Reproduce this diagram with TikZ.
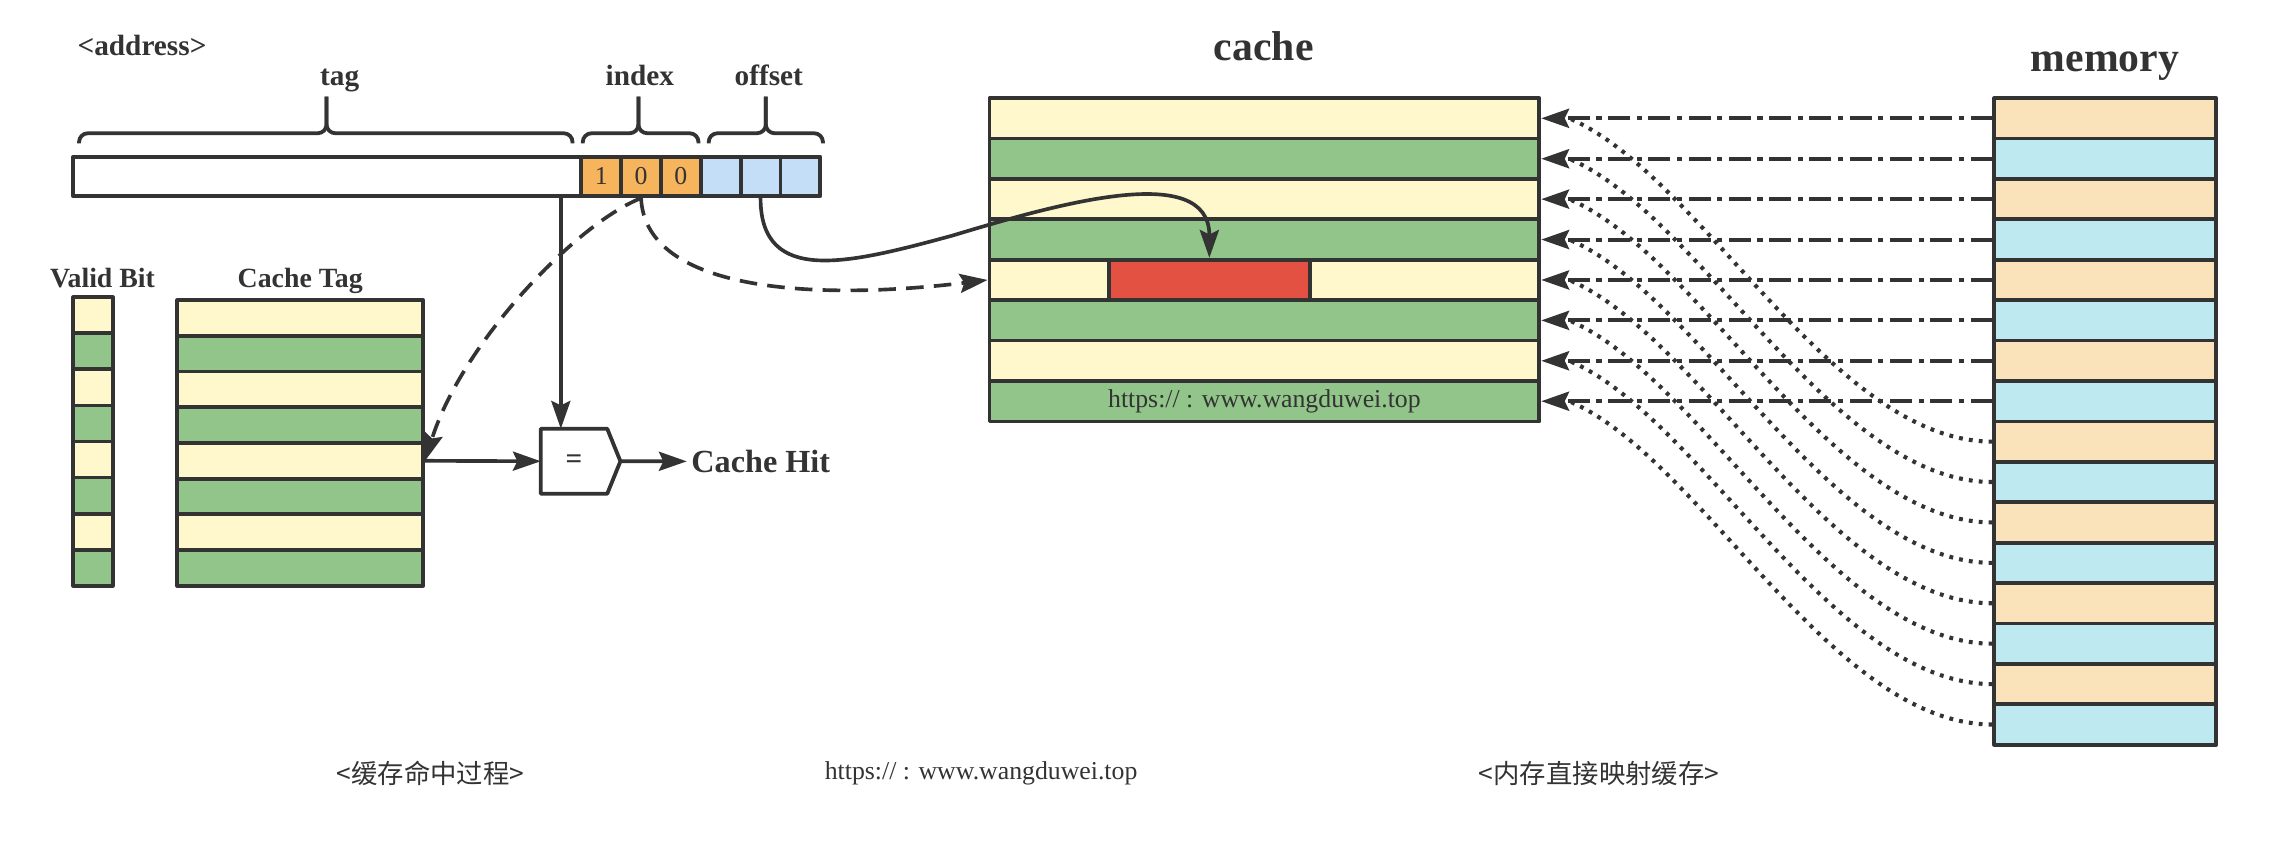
\documentclass[tikz,border=0pt]{standalone}
\usepackage{fontspec}
\setmainfont{Liberation Serif}
\newfontfamily\cjk{Noto Sans CJK SC}
\usetikzlibrary{arrows.meta}
\definecolor{row1}{HTML}{FFF8CC}
\definecolor{row0}{HTML}{92C58A}
\definecolor{mem1}{HTML}{FAE2BA}
\definecolor{mem0}{HTML}{BEE9F0}
\definecolor{idx}{HTML}{F6B55D}
\definecolor{ofs}{HTML}{C4DEF7}
\definecolor{blk}{HTML}{E25141}
\definecolor{ink}{HTML}{333333}
\begin{document}
\begin{tikzpicture}[x=1pt,y=-1pt,line join=round,
	cell/.style={draw=ink,line width=2.6pt,inner sep=0pt},
	lbl/.style={text=ink,inner sep=0pt,font=\bfseries\fontsize{20}{24}\selectfont},
	note/.style={text=ink,inner sep=0pt,font=\fontsize{17.6}{21}\selectfont},
	arr/.style={draw=ink,line width=2.5pt,-{Stealth[length=19pt,width=13pt,inset=3pt]}},
	dashline/.style={arr,dash pattern=on 12pt off 7pt},
	dashdotline/.style={arr,line width=2.8pt,dash pattern=on 15pt off 4.5pt on 3.5pt off 4.5pt},
	dotline/.style={draw=ink,line width=2.8pt,dash pattern=on 2.6pt off 4.2pt}]
	\useasboundingbox (0,0) rectangle (1568,575);
	% address
	\node[lbl,anchor=base] (addr) at (97,38) {<address>};
	\node[cell,fill=white,minimum width=347pt,minimum height=27pt] (tagbits) at (223.5,120.5) {};
	\foreach \i/\d in {1/1,2/0,3/0}
		\node[cell,fill=idx,minimum width=27.2pt,minimum height=27pt,note] (ix\i) at ({397+(\i-0.5)*27.2},120.5) {\d};
	\foreach \i in {1,2,3}
		\node[cell,fill=ofs,minimum width=27.2pt,minimum height=27pt] (of\i) at ({478.6+(\i-0.5)*27.2},120.5) {};
	\foreach \a/\b/\m/\x/\t in {54/391/223/232/tag,398/477/436/437/index,484/562/523/525/offset}{
		\draw[ink,line width=2.6pt,rounded corners=6pt] (\a,98) -- (\a,91) -- (\m,91) -- (\m,66);
		\draw[ink,line width=2.6pt,rounded corners=6pt] (\b,98) -- (\b,91) -- (\m,91) -- (\m,66);
		\node[lbl,anchor=base] (\t) at (\x,58.5) {\t};
	}
	% valid bits and cache tags
	\node[lbl,anchor=base,font=\bfseries\fontsize{19}{23}\selectfont] (vlbl) at (70,196.5) {Valid Bit};
	\node[lbl,anchor=base,font=\bfseries\fontsize{19}{23}\selectfont] (tlbl) at (205,196.5) {Cache Tag};
	\foreach \i [evaluate=\i as \cl using {int(mod(\i,2))}] in {1,...,8}{
		\node[cell,fill=row\cl,minimum width=27pt,minimum height=24.625pt] (v\i) at (63.5,{203+(\i-0.5)*24.625}) {};
		\node[cell,fill=row\cl,minimum width=168pt,minimum height=24.375pt] (t\i) at (205,{205+(\i-0.5)*24.375}) {};
	}
	% comparator
	\node[minimum width=45pt,minimum height=44pt,inner sep=0pt] (eq) at (392,315) {};
	\draw[ink,line width=2.6pt,fill=white] (eq.north west) -- (eq.north east) -- ([xshift=9pt]eq.east) -- (eq.south east) -- (eq.south west) -- cycle;
	\node[lbl] at (eq) {=};
	\node[lbl,anchor=base west,font=\bfseries\fontsize{22}{26}\selectfont] (hit) at (472,322.6) {Cache Hit};
	\draw[arr] ([xshift=-9pt]eq.north |- tagbits.south) -- ([xshift=-9pt]eq.north);
	\draw[arr] (t5.east) -- (eq.west);
	\draw[arr] ([xshift=9pt]eq.east) -- ([xshift=-3pt]hit.west);
	% cache
	\node[lbl,anchor=base,font=\bfseries\fontsize{28.5}{33}\selectfont] (ctitle) at (863,41) {cache};
	\foreach \i [evaluate=\i as \cl using {int(mod(\i,2))}] in {1,...,8}
		\node[cell,fill=row\cl,minimum width=375.5pt,minimum height=27.6pt] (c\i) at (863.5,{67+(\i-0.5)*27.6}) {};
	\node[cell,fill=blk,minimum width=137pt,minimum height=27.6pt] (blk) at (825.9,{67+4.5*27.6}) {};
	\node[note] (url1) at (c8) {https:// : www.wangduwei.top};
	% memory
	\node[lbl,anchor=base,font=\bfseries\fontsize{28.5}{33}\selectfont] (mtitle) at (1437.5,49) {memory};
	\foreach \i [evaluate=\i as \cl using {int(mod(\i,2))}] in {1,...,16}
		\node[cell,fill=mem\cl,minimum width=151.5pt,minimum height=27.6pt] (m\i) at (1437.75,{67+(\i-0.5)*27.6}) {};
	% address to cache
	\coordinate (bend) at (650,161);
	\draw[dashline] (ix2.south) .. controls +(-45,18) and +(25,-80) .. (t5.east);
	\draw[dashline] (ix2.south) .. controls +(3,65) and +(-114,14) .. (c5.west);
	\draw[arr] (of2.south) .. controls +(0,60) and +(-70,19) .. (bend) .. controls +(70,-21) and +(0,-67) .. (blk.north);
	% memory to cache
	\foreach \i [evaluate=\i as \j using {int(\i+8)}] in {1,...,8}
		\draw[dotline] (m\j.west) .. controls +(-110,0) and +(90,38) .. ([xshift=19pt]c\i.east);
	\foreach \i in {1,...,8}
		\draw[dashdotline] (m\i.west) -- (c\i.east);
	% captions
	\node[text=ink,font=\cjk\fontsize{18}{22}\selectfont] (cap1) at (294,528) {<缓存命中过程>};
	\node[note] (cap2) at (670,528) {https:// : www.wangduwei.top};
	\node[text=ink,font=\cjk\fontsize{18}{22}\selectfont] (cap3) at (1092,528) {<内存直接映射缓存>};
\end{tikzpicture}
\end{document}
